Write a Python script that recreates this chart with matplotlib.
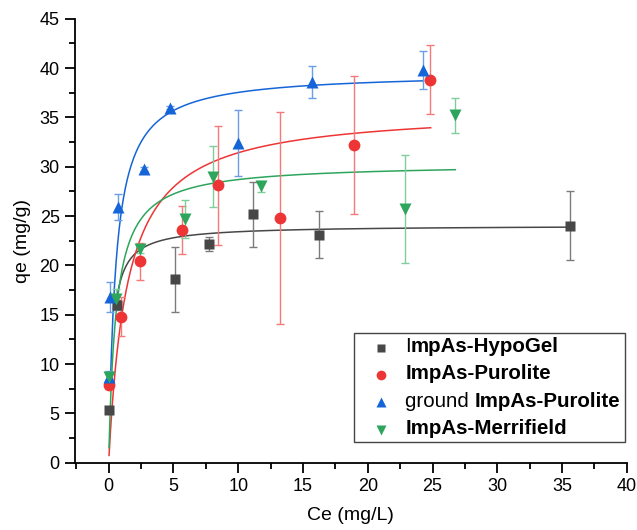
import numpy as np
import matplotlib.pyplot as plt
from matplotlib.offsetbox import (AnchoredOffsetbox, DrawingArea, HPacker,
                                  TextArea, VPacker)
from matplotlib.lines import Line2D
from matplotlib.ticker import MultipleLocator

plt.rcParams['font.family'] = ['Liberation Sans', 'DejaVu Sans']

# measured points (Ce, qe, error)
hypo_x = [0.0, 0.63, 5.14, 7.74, 11.18, 16.2, 35.6]
hypo_y = [5.3, 16.0, 18.6, 22.2, 25.2, 23.1, 24.0]
hypo_e = [0.3, 0.5, 3.3, 0.7, 3.3, 2.4, 3.5]

puro_x = [0.0, 0.97, 2.43, 5.65, 8.46, 13.2, 18.96, 24.77]
puro_y = [7.9, 14.8, 20.4, 23.6, 28.1, 24.8, 32.2, 38.8]
puro_e = [0.4, 1.95, 1.85, 2.4, 6.0, 10.7, 7.0, 3.5]

ground_x = [0.0, 0.1, 0.76, 2.69, 4.7, 9.98, 15.7, 24.3]
ground_y = [8.7, 16.8, 25.9, 29.8, 36.0, 32.4, 38.6, 39.8]
ground_e = [0.6, 1.5, 1.35, 0.2, 0.2, 3.35, 1.65, 1.9]

merr_x = [0.0, 0.58, 2.43, 5.86, 8.04, 11.78, 22.9, 26.7]
merr_y = [8.7, 16.6, 21.7, 24.7, 29.0, 28.0, 25.7, 35.2]
merr_e = [0.4, 1.0, 0.4, 1.9, 3.05, 0.6, 5.5, 1.8]

# Langmuir fit parameters (qmax, K, x range)
fit_hypo = (24.06, 3.6, 0.6, 35.6)
fit_puro = (35.9, 0.70, 0.03, 24.86)
fit_ground = (39.57, 1.84, 0.15, 24.3)
fit_merr = (30.33, 1.757, 0.03, 26.76)

c_black, e_black = '#474747', '#7b7b7b'
c_red, e_red = '#ee3535', '#f47a7a'
c_blue, e_blue = '#1565d8', '#6a9ee6'
c_green, e_green = '#2ea55c', '#80cc9c'

fig = plt.figure(figsize=(6.37, 5.30), dpi=100)
ax = fig.add_axes([0.1177, 0.127, 0.8663, 0.8377])


def langmuir(fit):
    qm, k, x0, x1 = fit
    c = np.linspace(x0, x1, 400)
    return c, qm * k * c / (1 + k * c)


series = [
    (hypo_x, hypo_y, hypo_e, fit_hypo, c_black, e_black, 's', 7),
    (puro_x, puro_y, puro_e, fit_puro, c_red, e_red, 'o', 8.5),
    (ground_x, ground_y, ground_e, fit_ground, c_blue, e_blue, '^', 9),
    (merr_x, merr_y, merr_e, fit_merr, c_green, e_green, 'v', 9),
]

for x, y, e, fit, col, ecol, mk, ms in series:
    cx, cy = langmuir(fit)
    ax.plot(cx, cy, color=col, lw=1.1, zorder=2)
    ax.errorbar(x, y, yerr=e, fmt='none', ecolor=ecol, elinewidth=1,
                capsize=3.2, capthick=1, zorder=3)
    ax.plot(x, y, mk, color=col, ms=ms, mec='none', zorder=4)

ax.set_xlim(-2.6, 40)
ax.set_ylim(0, 45)
ax.xaxis.set_major_locator(MultipleLocator(5))
ax.xaxis.set_minor_locator(MultipleLocator(2.5))
ax.yaxis.set_major_locator(MultipleLocator(5))
ax.yaxis.set_minor_locator(MultipleLocator(2.5))
ax.spines['top'].set_visible(False)
ax.spines['right'].set_visible(False)
ax.spines['left'].set_linewidth(1.3)
ax.spines['bottom'].set_linewidth(1.3)
ax.tick_params(which='major', direction='out', length=7, width=1.3,
               labelsize=13, pad=4)
ax.tick_params(which='minor', direction='out', length=4, width=1.3)
ax.set_xlabel('Ce (mg/L)', fontsize=14, labelpad=9)
ax.set_ylabel('qe (mg/g)', fontsize=14, labelpad=6)

# legend with mixed font weights
fs = 14.8
rows = [
    ('s', c_black, 6, [('I', 'normal'), ('mpAs-HypoGel', 'bold')]),
    ('o', c_red, 7, [('ImpAs-Purolite', 'bold')]),
    ('^', c_blue, 7, [('ground ', 'normal'), ('ImpAs-Purolite', 'bold')]),
    ('v', c_green, 7, [('ImpAs-Merrifield', 'bold')]),
]
boxes = []
for mk, col, ms, parts in rows:
    da = DrawingArea(24, 14, 0, 0)
    da.add_artist(Line2D([16.5], [6], marker=mk, color=col, ms=ms, mec='none',
                         ls='none'))
    texts = [TextArea(t, textprops=dict(fontsize=fs, fontweight=w))
             for t, w in parts]
    tb = HPacker(children=texts, align='baseline', pad=0, sep=0)
    boxes.append(HPacker(children=[da, tb], align='center', pad=0, sep=10))
vp = VPacker(children=boxes, align='left', pad=0, sep=5.5)
anch = AnchoredOffsetbox(loc='upper left', child=vp, pad=0.3,
                         borderpad=0, frameon=True,
                         bbox_to_anchor=(354 / 637, 1 - 333 / 530),
                         bbox_transform=fig.transFigure)
anch.patch.set_edgecolor('#444444')
anch.patch.set_linewidth(1.0)
ax.add_artist(anch)

fig.savefig('out.png', dpi=100)
